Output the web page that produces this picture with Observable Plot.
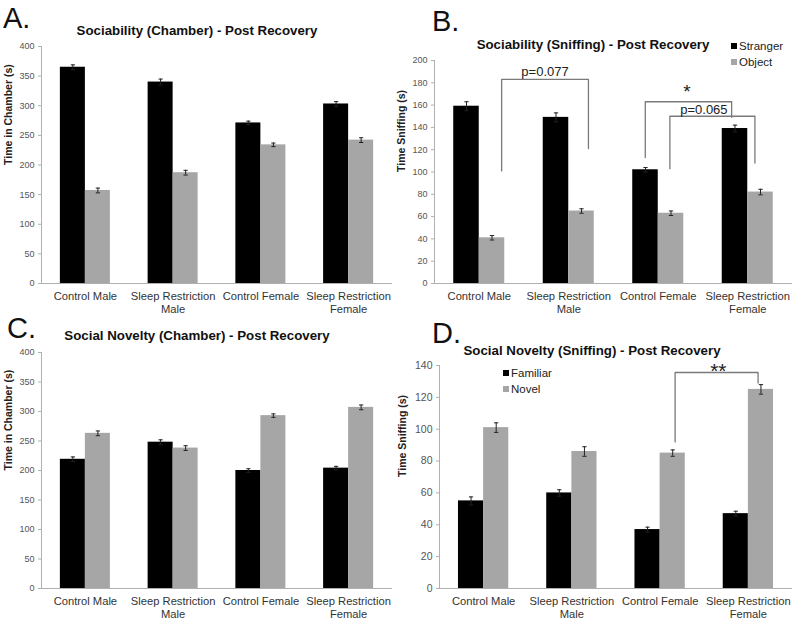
<!DOCTYPE html>
<html>
<head>
<meta charset="utf-8">
<script src="https://cdn.jsdelivr.net/npm/d3@7"></script>
<script src="https://cdn.jsdelivr.net/npm/@observablehq/plot@0.6"></script>
<style>
  body { margin: 0; background: #fff; font-family: Arial, "Liberation Sans", sans-serif; }
  #wrap { position: relative; width: 800px; height: 623px; overflow: hidden; background: #fff; }
  .panel { position: absolute; }
  .panel svg { overflow: visible; }
  #overlay { position: absolute; left: 0; top: 0; pointer-events: none; }
</style>
</head>
<body>
<div id="wrap"></div>
<script>
// ---------- data ----------
const groups = ["Control Male", "Sleep Restriction\nMale", "Control Female", "Sleep Restriction\nFemale"];

// A. Sociability (Chamber)
const aStranger = [365, 340, 271, 303];
const aStrangerErr = [4, 5, 3, 4];
const aObject = [157, 187, 234, 242];
const aObjectErr = [4, 4, 3, 4];

// B. Sociability (Sniffing)
const bStranger = [159, 149, 102, 139];
const bStrangerErr = [4, 4, 2, 3];
const bObject = [41, 65, 63, 82];
const bObjectErr = [2, 2, 2, 2.5];

// C. Social Novelty (Chamber)
const cFamiliar = [219, 248, 200, 204];
const cFamiliarErr = [4, 4, 3, 3];
const cNovel = [263, 238, 293, 307];
const cNovelErr = [4, 4, 3, 4];

// D. Social Novelty (Sniffing)
const dFamiliar = [55, 60, 37, 47];
const dFamiliarErr = [2.5, 2, 1.5, 1.5];
const dNovel = [101, 86, 85, 125];
const dNovelErr = [3, 3, 2, 3];

// significance brackets (x in group units, y in data units)
const bBracketLeftX = [0.25, 1.855, 2.13];
const bBracketLeftY = [101, 113, 103];
const bBracketRightX = [1.22, 2.82, 3.08];
const bBracketRightY = [121, 149, 108];
const bBracketTopY = [183, 163, 150];
const bNoteText = ["p=0.077", "*", "p=0.065"];
const bNoteX = [0.735, 2.32, 2.51];
const bNoteY = [190, 171.5, 155.5];
const bNoteSize = [13, 19, 13];

const dBracketLeftX = [2.17];
const dBracketLeftY = [92];
const dBracketRightX = [3.11];
const dBracketRightY = [129];
const dBracketTopY = [135.6];
const dNoteText = ["**"];
const dNoteX = [2.66];
const dNoteY = [136.5];
const dNoteSize = [21];

// ---------- drawing ----------
const BLACK = "#000000", GRAY = "#a6a6a6";
const BW = 0.285, CAP = 0.024;

function panel(o) {
  const rows = [];
  groups.forEach((g, i) => {
    rows.push({g: i, s: 0, v: o.s1[i], e: o.e1[i]});
    rows.push({g: i, s: 1, v: o.s2[i], e: o.e2[i]});
  });
  const xc = d => d.g + (d.s - 0.5) * BW;
  const brackets = [];
  (o.bLX || []).forEach((_, k) => {
    brackets.push({k, x: o.bLX[k], y: o.bLY[k]});
    brackets.push({k, x: o.bLX[k], y: o.bTop[k]});
    brackets.push({k, x: o.bRX[k], y: o.bTop[k]});
    brackets.push({k, x: o.bRX[k], y: o.bRY[k]});
  });
  const notes = (o.nT || []).map((t, k) => ({t, x: o.nX[k], y: o.nY[k], size: o.nS[k]}));
  const marks = [
    Plot.rect(rows.filter(d => d.s === 0), {x1: d => d.g - BW, x2: d => d.g, y1: 0, y2: "v", fill: BLACK}),
    Plot.rect(rows.filter(d => d.s === 1), {x1: d => d.g, x2: d => d.g + BW, y1: 0, y2: "v", fill: GRAY}),
    Plot.ruleY([0], {stroke: "#b0b0b0", strokeWidth: 1.2}),
    Plot.ruleX([-0.5], {y1: 0, y2: o.yMax, stroke: "#b0b0b0", strokeWidth: 1}),
    Plot.ruleX(rows, {x: xc, y1: d => d.v - d.e, y2: d => d.v + d.e, stroke: "#222", strokeWidth: 1}),
    Plot.link(rows, {x1: d => xc(d) - CAP, x2: d => xc(d) + CAP, y1: d => d.v + d.e, y2: d => d.v + d.e, stroke: "#222"}),
    Plot.link(rows, {x1: d => xc(d) - CAP, x2: d => xc(d) + CAP, y1: d => d.v - d.e, y2: d => d.v - d.e, stroke: "#222"}),
    Plot.axisY({ticks: d3.range(0, o.yMax + 0.001, o.yStep), tickSize: 3, tickPadding: 4, fontSize: o.tickFont, fill: "#555", stroke: "#b0b0b0", label: null}),
    Plot.axisX([0, 1, 2, 3], {tickFormat: i => groups[i], tickSize: 0, tickPadding: 7, fontSize: 11.2, fill: "#333", label: null, lineHeight: 1.15}),
    Plot.text([o.yLabel], {text: d => d, frameAnchor: "left", rotate: -90, dx: -o.labelOff, fontWeight: "bold", fontSize: 10.5, fill: "#222"})
  ];
  if (brackets.length) marks.push(Plot.line(brackets, {x: "x", y: "y", z: "k", stroke: "#7a7a7a", strokeWidth: 1.3}));
  if (notes.length) marks.push(Plot.text(notes, {x: "x", y: "y", text: "t", fontSize: d => d.size, fill: "#222",
    fontWeight: d => d.t.startsWith("*") ? "bold" : "normal"}));
  const chart = Plot.plot({
    width: 400, height: o.height,
    marginTop: o.mt, marginBottom: o.mb, marginLeft: o.ml, marginRight: 8,
    style: {fontFamily: "Arial, 'Liberation Sans', sans-serif", background: "transparent", overflow: "visible"},
    x: {type: "linear", domain: [-0.5, 3.5]},
    y: {domain: [0, o.yMax]},
    marks
  });
  const div = document.createElement("div");
  div.className = "panel";
  div.style.left = o.left + "px";
  div.style.top = o.top + "px";
  div.appendChild(chart);
  document.getElementById("wrap").appendChild(div);
}

panel({left: 0, top: 0, height: 320, mt: 46, mb: 37, ml: 41, yMax: 400, yStep: 50, tickFont: 9,
  s1: aStranger, e1: aStrangerErr, s2: aObject, e2: aObjectErr, yLabel: "Time in Chamber (s)", labelOff: 33});
panel({left: 400, top: 0, height: 320, mt: 60, mb: 37, ml: 34, yMax: 200, yStep: 20, tickFont: 9,
  s1: bStranger, e1: bStrangerErr, s2: bObject, e2: bObjectErr, yLabel: "Time Sniffing (s)", labelOff: 33,
  bLX: bBracketLeftX, bLY: bBracketLeftY, bRX: bBracketRightX, bRY: bBracketRightY, bTop: bBracketTopY,
  nT: bNoteText, nX: bNoteX, nY: bNoteY, nS: bNoteSize});
panel({left: 0, top: 310, height: 313, mt: 42, mb: 35, ml: 41, yMax: 400, yStep: 50, tickFont: 9,
  s1: cFamiliar, e1: cFamiliarErr, s2: cNovel, e2: cNovelErr, yLabel: "Time in Chamber (s)", labelOff: 33});
panel({left: 400, top: 310, height: 313, mt: 55, mb: 35, ml: 39, yMax: 140, yStep: 20, tickFont: 10.5,
  s1: dFamiliar, e1: dFamiliarErr, s2: dNovel, e2: dNovelErr, yLabel: "Time Sniffing (s)", labelOff: 37,
  bLX: dBracketLeftX, bLY: dBracketLeftY, bRX: dBracketRightX, bRY: dBracketRightY, bTop: dBracketTopY,
  nT: dNoteText, nX: dNoteX, nY: dNoteY, nS: dNoteSize});

// ---------- overlay: panel letters, titles, legends ----------
const letters = ["A.", "B.", "C.", "D."];
const letterX = [3, 432, 7, 432];
const letterY = [28, 31, 338, 343];
const titles = ["Sociability (Chamber) - Post Recovery", "Sociability (Sniffing) - Post Recovery",
                "Social Novelty (Chamber) - Post Recovery", "Social Novelty (Sniffing) - Post Recovery"];
const titleX = [197, 593, 197, 592];
const titleY = [35, 49, 340, 355];
const legendLabels = ["Stranger", "Object", "Familiar", "Novel"];
const legendX = [731, 731, 503, 503];
const legendY = [46, 62, 373, 389];
const legendColors = [BLACK, GRAY, BLACK, GRAY];

const svg = d3.select("#wrap").append("svg").attr("id", "overlay").attr("width", 800).attr("height", 623)
  .style("font-family", "Arial, 'Liberation Sans', sans-serif");
svg.selectAll("text.letter").data(letters).join("text").attr("class", "letter")
  .attr("x", (d, i) => letterX[i]).attr("y", (d, i) => letterY[i]).attr("font-size", 29).attr("fill", "#111").text(d => d);
svg.selectAll("text.title").data(titles).join("text").attr("class", "title")
  .attr("x", (d, i) => titleX[i]).attr("y", (d, i) => titleY[i]).attr("text-anchor", "middle")
  .attr("font-size", 13.3).attr("font-weight", "bold").attr("fill", "#111").text(d => d);
svg.selectAll("rect.leg").data(legendLabels).join("rect").attr("class", "leg")
  .attr("x", (d, i) => legendX[i]).attr("y", (d, i) => legendY[i] - 3).attr("width", 6).attr("height", 6)
  .attr("fill", (d, i) => legendColors[i]);
svg.selectAll("text.leg").data(legendLabels).join("text").attr("class", "leg")
  .attr("x", (d, i) => legendX[i] + 8).attr("y", (d, i) => legendY[i] + 4).attr("font-size", 11.5).attr("fill", "#222").text(d => d);
</script>
</body>
</html>
